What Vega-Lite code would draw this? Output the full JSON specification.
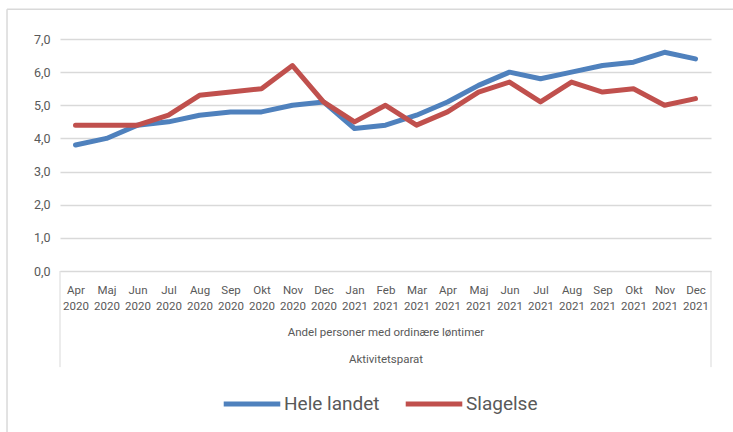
{
  "$schema": "https://vega.github.io/schema/vega-lite/v6.json",
  "width": 651,
  "height": 232,
  "autosize": {"type": "none"},
  "padding": {"left": 60, "top": 39, "right": 22, "bottom": 161},
  "background": "white",
  "config": {
    "view": {"stroke": null},
    "font": "Roboto",
    "axisY": {
      "tickCount": 7,
      "labelExpr": "replace(format(datum.value, '.1f'), '.', ',')",
      "labelFontSize": 12.5,
      "labelColor": "#595959",
      "labelPadding": 10,
      "ticks": false,
      "domain": false,
      "grid": true,
      "gridColor": "#d9d9d9",
      "gridWidth": 1.5
    }
  },
  "resolve": {"scale": {"x": "independent"}},
  "layer": [
    {
      "data": {
        "values": [
          {"month": "Apr 2020", "series": "Hele landet", "value": 3.8},
          {"month": "Maj 2020", "series": "Hele landet", "value": 4.0},
          {"month": "Jun 2020", "series": "Hele landet", "value": 4.4},
          {"month": "Jul 2020", "series": "Hele landet", "value": 4.5},
          {"month": "Aug 2020", "series": "Hele landet", "value": 4.7},
          {"month": "Sep 2020", "series": "Hele landet", "value": 4.8},
          {"month": "Okt 2020", "series": "Hele landet", "value": 4.8},
          {"month": "Nov 2020", "series": "Hele landet", "value": 5.0},
          {"month": "Dec 2020", "series": "Hele landet", "value": 5.1},
          {"month": "Jan 2021", "series": "Hele landet", "value": 4.3},
          {"month": "Feb 2021", "series": "Hele landet", "value": 4.4},
          {"month": "Mar 2021", "series": "Hele landet", "value": 4.7},
          {"month": "Apr 2021", "series": "Hele landet", "value": 5.1},
          {"month": "Maj 2021", "series": "Hele landet", "value": 5.6},
          {"month": "Jun 2021", "series": "Hele landet", "value": 6.0},
          {"month": "Jul 2021", "series": "Hele landet", "value": 5.8},
          {"month": "Aug 2021", "series": "Hele landet", "value": 6.0},
          {"month": "Sep 2021", "series": "Hele landet", "value": 6.2},
          {"month": "Okt 2021", "series": "Hele landet", "value": 6.3},
          {"month": "Nov 2021", "series": "Hele landet", "value": 6.6},
          {"month": "Dec 2021", "series": "Hele landet", "value": 6.4},
          {"month": "Apr 2020", "series": "Slagelse", "value": 4.4},
          {"month": "Maj 2020", "series": "Slagelse", "value": 4.4},
          {"month": "Jun 2020", "series": "Slagelse", "value": 4.4},
          {"month": "Jul 2020", "series": "Slagelse", "value": 4.7},
          {"month": "Aug 2020", "series": "Slagelse", "value": 5.3},
          {"month": "Sep 2020", "series": "Slagelse", "value": 5.4},
          {"month": "Okt 2020", "series": "Slagelse", "value": 5.5},
          {"month": "Nov 2020", "series": "Slagelse", "value": 6.2},
          {"month": "Dec 2020", "series": "Slagelse", "value": 5.1},
          {"month": "Jan 2021", "series": "Slagelse", "value": 4.5},
          {"month": "Feb 2021", "series": "Slagelse", "value": 5.0},
          {"month": "Mar 2021", "series": "Slagelse", "value": 4.4},
          {"month": "Apr 2021", "series": "Slagelse", "value": 4.8},
          {"month": "Maj 2021", "series": "Slagelse", "value": 5.4},
          {"month": "Jun 2021", "series": "Slagelse", "value": 5.7},
          {"month": "Jul 2021", "series": "Slagelse", "value": 5.1},
          {"month": "Aug 2021", "series": "Slagelse", "value": 5.7},
          {"month": "Sep 2021", "series": "Slagelse", "value": 5.4},
          {"month": "Okt 2021", "series": "Slagelse", "value": 5.5},
          {"month": "Nov 2021", "series": "Slagelse", "value": 5.0},
          {"month": "Dec 2021", "series": "Slagelse", "value": 5.2}
        ]
      },
      "mark": {"type": "line", "strokeWidth": 5, "strokeCap": "round", "strokeJoin": "round"},
      "encoding": {
        "x": {
          "field": "month",
          "type": "nominal",
          "sort": null,
          "scale": {"type": "point", "padding": 0.5},
          "axis": {
            "labelExpr": "split(datum.label, ' ')",
            "labelAngle": 0,
            "labelFontSize": 11.5,
            "labelColor": "#595959",
            "labelLineHeight": 16,
            "labelBaseline": "top",
            "labelPadding": 13,
            "ticks": false,
            "domain": true,
            "domainColor": "#d9d9d9",
            "domainWidth": 1,
            "grid": false,
            "title": ["Andel personer med ordinære løntimer", "Aktivitetsparat"],
            "titleFontSize": 11.5,
            "titleFontWeight": "normal",
            "titleColor": "#595959",
            "titleLineHeight": 27,
            "titlePadding": 15
          }
        },
        "y": {
          "field": "value",
          "type": "quantitative",
          "title": null,
          "scale": {"domain": [0, 7], "nice": false, "zero": false}
        },
        "color": {
          "field": "series",
          "type": "nominal",
          "scale": {"domain": ["Hele landet", "Slagelse"], "range": ["#4f81bd", "#c0504d"]},
          "legend": {
            "title": null,
            "orient": "none",
            "direction": "horizontal",
            "legendX": 161,
            "legendY": 334,
            "symbolType": "stroke",
            "symbolSize": 3200,
            "symbolStrokeWidth": 5,
            "labelFontSize": 19,
            "labelColor": "#595959",
            "labelOffset": 1,
            "columnPadding": 15,
            "symbolOffset": 0
          }
        }
      }
    },
    {
      "data": {"values": [{}]},
      "mark": {"type": "rule", "color": "#d9d9d9", "strokeWidth": 1},
      "encoding": {
        "x": {"datum": 0, "type": "quantitative", "scale": {"domain": [0, 1], "nice": false, "zero": false}, "axis": null},
        "y": {"datum": 0, "type": "quantitative", "title": null, "scale": {"domain": [0, 7], "nice": false, "zero": false}},
        "y2": {"datum": -2.9}
      }
    },
    {
      "data": {"values": [{}]},
      "mark": {"type": "rule", "color": "#d9d9d9", "strokeWidth": 1},
      "encoding": {
        "x": {"datum": 1, "type": "quantitative", "scale": {"domain": [0, 1], "nice": false, "zero": false}, "axis": null},
        "y": {"datum": 0, "type": "quantitative", "title": null, "scale": {"domain": [0, 7], "nice": false, "zero": false}},
        "y2": {"datum": -2.9}
      }
    },
    {
      "data": {"values": [{}]},
      "mark": {"type": "rule", "color": "#d9d9d9", "strokeWidth": 1.5},
      "encoding": {
        "x": {"datum": -0.0814, "type": "quantitative", "scale": {"domain": [0, 1], "nice": false, "zero": false}, "axis": null},
        "y": {"datum": 7.896, "type": "quantitative", "title": null, "scale": {"domain": [0, 7], "nice": false, "zero": false}},
        "y2": {"datum": -4.9}
      }
    },
    {
      "data": {"values": [{}]},
      "mark": {"type": "rule", "color": "#d9d9d9", "strokeWidth": 1.5},
      "encoding": {
        "x": {"datum": -0.0814, "type": "quantitative", "scale": {"domain": [0, 1], "nice": false, "zero": false}, "axis": null},
        "x2": {"datum": 1.04},
        "y": {"datum": 7.896, "type": "quantitative", "title": null, "scale": {"domain": [0, 7], "nice": false, "zero": false}}
      }
    }
  ]
}
